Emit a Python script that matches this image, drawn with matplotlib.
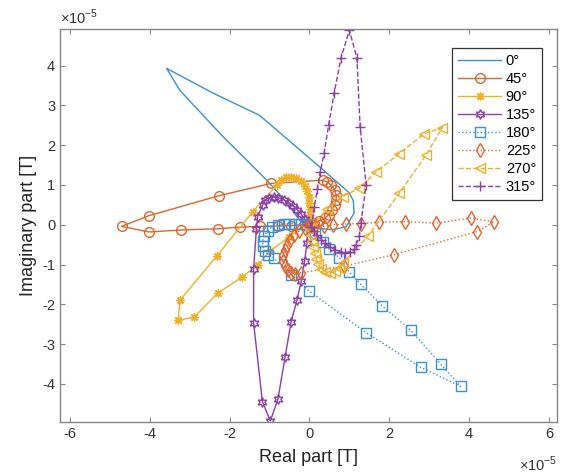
import matplotlib
matplotlib.use("Agg")
import matplotlib.pyplot as plt

plt.rcParams['font.family'] = ['Liberation Sans', 'DejaVu Sans']
plt.rcParams['axes.unicode_minus'] = False

# values in units of 1e-5 T (real part, imaginary part)
labels = ['0°', '45°', '90°', '135°', '180°', '225°', '270°', '315°']

re_0 = [0.0, 0.3, 0.6, 0.92, 1.12, 1.1, 1.0, 0.25, -1.25, -2.4, -3.58, -3.25, -2.2, -1.07, -0.6, -0.25, 0.0]
im_0 = [0.0, -0.1, -0.12, -0.05, 0.3, 0.6, 0.8, 1.46, 2.75, 3.3, 3.93, 3.38, 2.25, 1.12, 0.6, 0.12, 0.0]

re_45 = [0.02, 0.12, 0.25, 0.38, 0.48, 0.56, 0.63, 0.67, 0.67, 0.63, 0.55, 0.45, 0.33,
         -0.96, -2.27, -4.02, -4.71, -4.02, -3.21, -2.29, -1.75, -1.25, -0.8, -0.45, 0.02]
im_45 = [0.02, 0.05, 0.1, 0.16, 0.25, 0.36, 0.5, 0.63, 0.76, 0.88, 0.99, 1.07, 1.12,
         1.04, 0.73, 0.23, -0.04, -0.18, -0.13, -0.1, -0.06, -0.04, -0.03, -0.02, 0.02]

re_90 = [0.0, 0.01, 0.01, 0.0, -0.02, -0.05, -0.1, -0.2, -0.33, -0.47, -0.6, -0.72, -0.82,
         -1.42, -2.32, -3.25, -3.29, -2.89, -2.29, -1.68, -1.29, -1.0, -0.5, 0.0]
im_90 = [0.1, 0.25, 0.4, 0.55, 0.7, 0.85, 0.98, 1.1, 1.18, 1.21, 1.19, 1.12, 1.0,
         0.33, -0.78, -1.9, -2.4, -2.32, -1.71, -1.31, -1.0, -0.67, -0.3, 0.1]

re_135 = [-0.05, -0.12, -0.2, -0.3, -0.4, -0.52, -0.65, -0.78, -0.9, -1.02, -1.12, -1.17,
          -1.3, -1.33, -1.4, -1.4, -1.18, -0.98, -0.79, -0.61, -0.46, -0.31, -0.2, -0.12, -0.06, -0.05]
im_135 = [0.05, 0.15, 0.26, 0.37, 0.47, 0.56, 0.63, 0.68, 0.7, 0.68, 0.62, 0.5,
          0.2, -0.11, -1.11, -2.46, -4.44, -4.93, -4.38, -3.32, -2.44, -1.88, -1.4, -0.9, -0.45, 0.05]

re_180 = [-0.05, -0.2, -0.35, -0.5, -0.65, -0.8, -0.93, -1.05, -1.13, -1.17, -1.17, -1.12, -1.03, -0.9,
          -0.45, 0.0, 1.42, 2.79, 3.79, 3.29, 2.54, 1.83, 1.29, 1.0, 0.75, 0.5, 0.33, 0.15, -0.05]
im_180 = [0.0, 0.02, 0.03, 0.03, 0.02, 0.0, -0.05, -0.15, -0.27, -0.4, -0.53, -0.65, -0.75, -0.83,
          -1.25, -1.67, -2.71, -3.58, -4.06, -3.5, -2.65, -2.04, -1.5, -1.19, -0.83, -0.62, -0.42, -0.2, 0.0]

re_225 = [-0.02, -0.12, -0.26, -0.38, -0.48, -0.56, -0.62, -0.66, -0.66, -0.62, -0.55, -0.46, -0.35,
          -0.2, 0.87, 2.12, 4.21, 4.62, 4.04, 3.17, 2.4, 1.75, 1.29, 0.92, 0.58, 0.37, 0.15, -0.02]
im_225 = [-0.02, -0.08, -0.16, -0.26, -0.38, -0.5, -0.63, -0.77, -0.9, -1.03, -1.13, -1.2, -1.23,
          -1.2, -1.04, -0.75, -0.17, 0.07, 0.17, 0.04, 0.08, 0.07, 0.03, 0.02, 0.0, -0.04, -0.03, -0.02]

re_270 = [0.02, 0.04, 0.07, 0.1, 0.13, 0.17, 0.22, 0.3, 0.4, 0.52, 0.64, 0.75, 0.84,
          1.46, 2.25, 2.92, 3.33, 2.88, 2.25, 1.67, 1.25, 0.83, 0.45, 0.02]
im_270 = [-0.1, -0.25, -0.4, -0.55, -0.7, -0.85, -0.98, -1.1, -1.18, -1.21, -1.17, -1.08, -0.96,
          -0.29, 0.79, 1.75, 2.44, 2.29, 1.79, 1.33, 0.92, 0.71, 0.4, -0.1]

re_315 = [0.05, 0.12, 0.2, 0.3, 0.4, 0.52, 0.65, 0.78, 0.9, 1.02, 1.12, 1.17,
          1.25, 1.29, 1.42, 1.27, 1.19, 1.0, 0.79, 0.62, 0.48, 0.37, 0.27, 0.2, 0.12, 0.05]
im_315 = [-0.05, -0.15, -0.26, -0.37, -0.47, -0.56, -0.63, -0.68, -0.7, -0.68, -0.62, -0.5,
          -0.29, 0.04, 1.0, 2.46, 4.19, 4.89, 4.19, 3.31, 2.5, 1.81, 1.33, 0.9, 0.45, -0.05]

series_re = [re_0, re_45, re_90, re_135, re_180, re_225, re_270, re_315]
series_im = [im_0, im_45, im_90, im_135, im_180, im_225, im_270, im_315]

blue = '#3d8fd4'
orange = '#e0662c'
yellow = '#efb02a'
purple = '#8c3fa6'
colors = [blue, orange, yellow, purple, blue, orange, yellow, purple]
styles = ['-', '-', '-', '-', ':', ':', '--', '--']
markers = ['None', 'o', (8, 2, 0), (6, 1, 0), 's', 'd', '<', '+']
msizes = [7, 7, 6, 7, 7, 7, 7, 7]

fig = plt.figure(figsize=(5.67, 4.75), dpi=100)
ax = fig.add_axes([0.106, 0.112, 0.876, 0.827])

for re, im, lab, c, ls, mk, ms in zip(series_re, series_im, labels, colors, styles, markers, msizes):
    ax.plot(re, im, linestyle=ls, marker=mk, color=c, lw=1.0, ms=ms,
            mfc='none', mec=c, mew=1.0, label=lab)

ax.set_xlim(-6.25, 6.2)
ax.set_ylim(-4.95, 4.92)
ax.set_xticks([-6, -4, -2, 0, 2, 4, 6])
ax.set_yticks([-4, -3, -2, -1, 0, 1, 2, 3, 4])
ax.tick_params(direction='in', top=True, right=True, length=3.5, width=0.8,
               labelsize=10.5, colors='#888888', labelcolor='#333333')
for sp in ax.spines.values():
    sp.set_color('#888888')
    sp.set_linewidth(1.0)

ax.set_xlabel('Real part [T]', fontsize=13, color='#222222', labelpad=6)
ax.set_ylabel('Imaginary part [T]', fontsize=13, color='#222222', labelpad=4)

ax.text(0.0, 1.005, '×10$^{\\mathregular{-5}}$', transform=ax.transAxes,
        ha='left', va='bottom', fontsize=10.5, color='#333333')
ax.text(1.0, -0.085, '×10$^{\\mathregular{-5}}$', transform=ax.transAxes,
        ha='right', va='top', fontsize=10.5, color='#333333')

leg = ax.legend(loc='upper right', bbox_to_anchor=(0.985, 0.97), fontsize=10.5,
                handlelength=3.0, labelspacing=0.28, borderpad=0.4,
                handletextpad=0.3, fancybox=False, framealpha=1.0)
leg.get_frame().set_edgecolor('#333333')
leg.get_frame().set_linewidth(0.9)

fig.savefig('out.png', dpi=100)
